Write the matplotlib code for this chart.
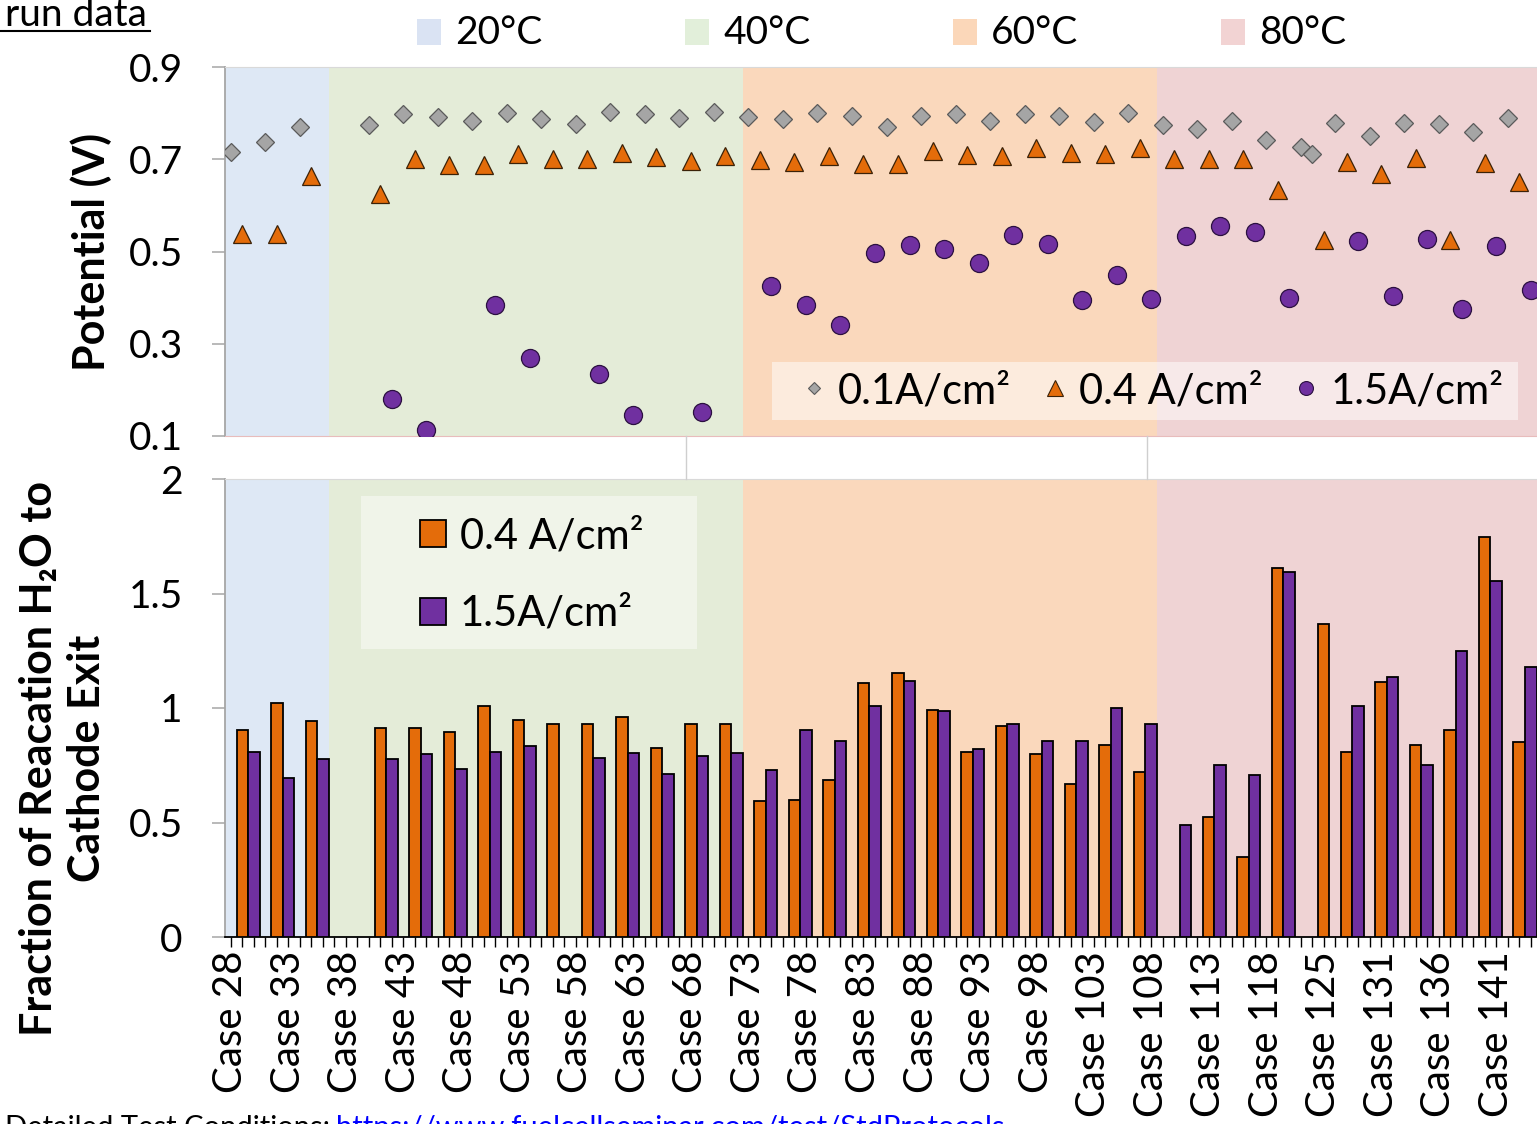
import matplotlib.pyplot as plt
from matplotlib.patches import Rectangle, Patch
from matplotlib.lines import Line2D

plt.rcParams['font.family'] = ['Lato', 'DejaVu Sans']

W, H = 1537, 1124

# x categories: one per test case (a few case numbers were skipped)
cases = list(range(28, 119)) + [119, 120, 123, 124, 125, 126, 127, 128, 130, 131,
                                 132, 133, 134, 135, 136, 137, 138, 139, 140, 141, 142, 143, 144]

temp_labels = ['20°C', '40°C', '60°C', '80°C']
temp_first_case = [28, 37, 73, 109]
temp_colors = ['#dee8f5', '#e4ecd8', '#fad8bc', '#efd3d4']
temp_legend_colors = ['#dae3f3', '#e2efda', '#fbd7b9', '#f2d3d3']

# cell potential (V)
v01_case = [28, 31, 34, 40, 43, 46, 49, 52, 55, 58, 61, 64, 67, 70, 73, 76, 79, 82, 85, 88,
            91, 94, 97, 100, 103, 106, 109, 112, 115, 118, 123, 124, 126, 130, 133, 136, 139, 142]
v01 = [0.716, 0.737, 0.771, 0.774, 0.798, 0.792, 0.782, 0.801, 0.787, 0.777, 0.803, 0.798, 0.790,
       0.803, 0.792, 0.787, 0.800, 0.793, 0.771, 0.793, 0.799, 0.782, 0.799, 0.793, 0.780, 0.800,
       0.774, 0.765, 0.782, 0.741, 0.727, 0.712, 0.779, 0.750, 0.779, 0.777, 0.760, 0.790]

v04_case = [29, 32, 35, 41, 44, 47, 50, 53, 56, 59, 62, 65, 68, 71, 74, 77, 80, 83, 86, 89,
            92, 95, 98, 101, 104, 107, 110, 113, 116, 119, 125, 127, 131, 134, 137, 140, 143]
v04 = [0.539, 0.539, 0.664, 0.624, 0.701, 0.688, 0.688, 0.712, 0.701, 0.701, 0.714, 0.704, 0.696,
       0.707, 0.699, 0.693, 0.706, 0.690, 0.690, 0.717, 0.709, 0.706, 0.725, 0.714, 0.712, 0.725,
       0.701, 0.700, 0.700, 0.633, 0.524, 0.693, 0.669, 0.703, 0.525, 0.692, 0.650]

v15_case = [42, 45, 51, 54, 60, 63, 69, 75, 78, 81, 84, 87, 90, 93, 96, 99, 102, 105, 108,
            111, 114, 117, 120, 128, 132, 135, 138, 141, 144]
v15 = [0.180, 0.114, 0.385, 0.269, 0.234, 0.146, 0.151, 0.426, 0.383, 0.340, 0.496, 0.514, 0.506,
       0.474, 0.535, 0.517, 0.395, 0.450, 0.397, 0.533, 0.556, 0.543, 0.400, 0.522, 0.404, 0.527,
       0.375, 0.512, 0.416]

# fraction of reaction water leaving at the cathode exit
f04_case = [29, 32, 35, 41, 44, 47, 50, 53, 56, 59, 62, 65, 68, 71, 74, 77, 80, 83, 86, 89,
            92, 95, 98, 101, 104, 107, 113, 116, 119, 125, 127, 131, 134, 137, 140, 143]
f04 = [0.905, 1.023, 0.945, 0.911, 0.911, 0.894, 1.007, 0.949, 0.930, 0.930, 0.959, 0.825, 0.930,
       0.930, 0.594, 0.598, 0.686, 1.111, 1.153, 0.991, 0.808, 0.921, 0.798, 0.668, 0.840, 0.722,
       0.523, 0.351, 1.613, 1.367, 0.808, 1.115, 0.840, 0.905, 1.748, 0.850]

f15_case = [30, 33, 36, 42, 45, 48, 51, 54, 60, 63, 66, 69, 72, 75, 78, 81, 84, 87, 90, 93,
            96, 99, 102, 105, 108, 111, 114, 117, 120, 128, 132, 135, 138, 141, 144]
f15 = [0.808, 0.695, 0.776, 0.776, 0.797, 0.732, 0.808, 0.834, 0.781, 0.802, 0.711, 0.792, 0.802,
       0.728, 0.905, 0.857, 1.007, 1.119, 0.987, 0.819, 0.930, 0.857, 0.857, 1.001, 0.932, 0.491,
       0.750, 0.706, 1.592, 1.007, 1.135, 0.750, 1.249, 1.556, 1.179]

pos = {c: i for i, c in enumerate(cases)}


def xs(case_list):
    return [pos[c] for c in case_list]


def fig_box(left, top, right, bottom):
    # pixel box -> figure fraction [l, b, w, h]
    return [left / W, 1 - bottom / H, (right - left) / W, (bottom - top) / H]


ORANGE = '#e46c0a'
PURPLE = '#7030a0'
GRAY = '#a5a5a5'
FS = 28
LFS = 30

fig = plt.figure(figsize=(W / 100, H / 100), dpi=100)
ax1 = fig.add_axes(fig_box(225, 67, 1536.5, 436))
ax2 = fig.add_axes(fig_box(225, 479, 1536.5, 937))

edges = [pos[c] - 0.5 for c in temp_first_case] + [len(cases) - 0.5]
for ax in (ax1, ax2):
    for i, col in enumerate(temp_colors):
        ax.axvspan(edges[i], edges[i + 1], color=col, lw=0, zorder=0)
    ax.set_xlim(-0.5, len(cases) - 0.5)

# ---- top panel: potentials
ax1.plot(xs(v01_case), v01, ls='none', marker='D', ms=9.2, mfc=GRAY, mec='#5a5a5a', mew=0.9, zorder=3)
ax1.plot(xs(v04_case), v04, ls='none', marker='^', ms=13.5, mfc=ORANGE, mec='#3b2208', mew=0.9, zorder=3)
ax1.plot(xs(v15_case), v15, ls='none', marker='o', ms=13, mfc=PURPLE, mec='#2b1040', mew=0.9, zorder=3)

ax1.set_ylim(0.1, 0.9)
ax1.set_yticks([0.1, 0.3, 0.5, 0.7, 0.9])
ax1.set_yticklabels(['0.1', '0.3', '0.5', '0.7', '0.9'])
ax1.set_xticks([])
ax1.spines['right'].set_visible(False)
ax1.spines['top'].set_color('#d9d9d9')
ax1.spines['bottom'].set_color('#e8bcbc')
ax1.spines['left'].set_color('#a6a6a6')
ax1.spines['left'].set_linewidth(1.3)
ax1.tick_params(axis='y', length=9.5, width=1.1, color='#a6a6a6', pad=21, labelsize=FS)
ax1.set_ylabel('Potential (V)', fontsize=31, fontweight='bold')
ax1.yaxis.set_label_coords(-0.086, 0.5)

leg1_box = Rectangle(((772 - 225) / 1311.5, (436 - 420) / 369), (1518 - 772) / 1311.5, 58 / 369,
                     transform=ax1.transAxes, facecolor='white', alpha=0.5, lw=0, zorder=4)
ax1.add_patch(leg1_box)
h1 = [Line2D([], [], ls='none', marker='D', ms=6.5, mfc=GRAY, mec='#5a5a5a', mew=0.8),
      Line2D([], [], ls='none', marker='^', ms=11, mfc=ORANGE, mec='#3b2208', mew=0.8),
      Line2D([], [], ls='none', marker='o', ms=10, mfc=PURPLE, mec='#2b1040', mew=0.8)]
leg1 = ax1.legend(h1, ['0.1A/cm²', '0.4 A/cm²', '1.5A/cm²'], ncol=3, frameon=False, fontsize=LFS,
                  loc='center left', bbox_to_anchor=((793 - 225) / 1311.5, (436 - 391) / 369),
                  borderpad=0, borderaxespad=0, handlelength=1.0, handletextpad=0.08,
                  columnspacing=0.55)
leg1.set_zorder(5)

# ---- bottom panel: water fraction bars
ax2.bar(xs(f04_case), f04, width=1.0, color=ORANGE, edgecolor='black', lw=1.3, zorder=3)
ax2.bar(xs(f15_case), f15, width=1.0, color=PURPLE, edgecolor='black', lw=1.3, zorder=3)

ax2.set_ylim(0, 2)
ax2.set_yticks([0, 0.5, 1, 1.5, 2])
ax2.set_yticklabels(['0', '0.5', '1', '1.5', '2'])
ax2.set_xticks(range(len(cases)))
ax2.set_xticklabels(['Case %d' % c if i % 5 == 0 else '' for i, c in enumerate(cases)],
                    rotation=90, fontsize=29)
ax2.spines['right'].set_visible(False)
ax2.spines['top'].set_color('#d9d9d9')
ax2.spines['left'].set_color('#a6a6a6')
ax2.spines['left'].set_linewidth(1.3)
ax2.spines['bottom'].set_color('black')
ax2.spines['bottom'].set_linewidth(1.3)
ax2.tick_params(axis='y', length=9.5, width=1.1, color='#a6a6a6', pad=21, labelsize=FS)
ax2.tick_params(axis='x', length=7, width=1.0, color='black', pad=3)
ax2.set_ylabel('Fraction of Reacation H₂O to\nCathode Exit', fontsize=31, fontweight='bold',
               linespacing=1.25)
ax2.yaxis.set_label_coords(-0.09, 0.39)

leg2_box = Rectangle(((361 - 225) / 1311.5, (937 - 649) / 458), (697 - 361) / 1311.5, 153 / 458,
                     transform=ax2.transAxes, facecolor='white', alpha=0.45, lw=0, zorder=4)
ax2.add_patch(leg2_box)
h2 = [Patch(facecolor=ORANGE, edgecolor='black', lw=1.3),
      Patch(facecolor=PURPLE, edgecolor='black', lw=1.3)]
leg2 = ax2.legend(h2, ['0.4 A/cm²', '1.5A/cm²'], frameon=False, fontsize=LFS, loc='center left',
                  bbox_to_anchor=((420 - 225) / 1311.5, (937 - 575) / 458), borderpad=0,
                  borderaxespad=0, handlelength=0.62, handleheight=0.62, handletextpad=0.34,
                  labelspacing=0.95)
leg2.set_zorder(5)

# ---- temperature key along the top
for i, (lab, col) in enumerate(zip(temp_labels, temp_legend_colors)):
    x0 = 417 + 268 * i
    fig.add_artist(Rectangle((x0 / W, 1 - 45 / H), 24 / W, 26 / H, transform=fig.transFigure,
                             facecolor=col, edgecolor='none'))
    fig.text((x0 + 38) / W, 1 - 33 / H, lab, fontsize=FS, va='center', ha='left')

# stray frame lines between the panels
for xl in (686, 1147):
    fig.add_artist(Line2D([xl / W, xl / W], [1 - 479 / H, 1 - 436 / H], transform=fig.transFigure,
                          color='#cfcfcf', lw=1))

# clipped page text
fig.text(5 / W, 1 - 26 / H, 'run data', fontsize=FS, va='baseline', ha='left')
fig.add_artist(Line2D([0, 150 / W], [1 - 31 / H, 1 - 31 / H], transform=fig.transFigure,
                      color='black', lw=1.5))
fig.text(5 / W, 1 - 1115 / H, 'Detailed Test Conditions: ', fontsize=21, va='top', ha='left')
fig.text(336 / W, 1 - 1115 / H, 'https://www.fuelcellseminar.com/test/StdProtocols',
         fontsize=21, va='top', ha='left', color='#0000ff')

fig.savefig('out.png', dpi=100)
